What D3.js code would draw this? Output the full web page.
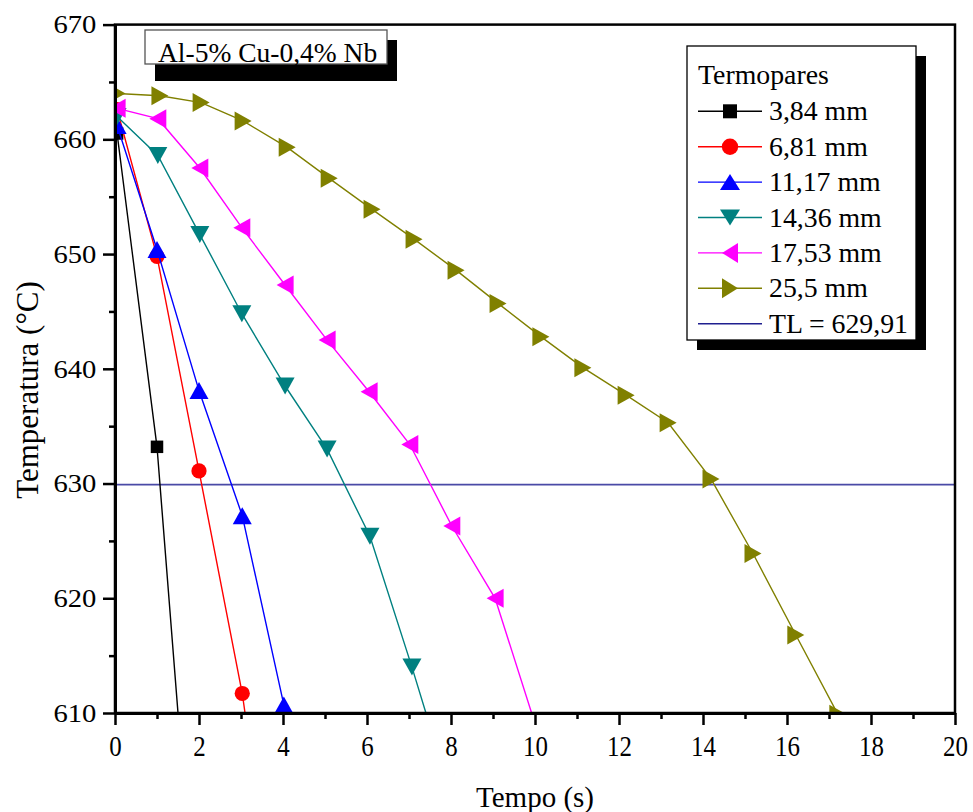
<!DOCTYPE html>
<html>
<head>
<meta charset="utf-8">
<script src="https://cdn.jsdelivr.net/npm/d3@7"></script>
<style>
  html, body { margin: 0; padding: 0; background: #fff; }
  svg { display: block; }
  text { font-family: "Liberation Serif", "Times New Roman", serif; fill: #000; }
</style>
</head>
<body>
<svg id="chart" width="973" height="812"></svg>
<script>
// Cooling curves per thermocouple position: time (s) and temperature (°C)
const seriesNames = ["3,84 mm", "6,81 mm", "11,17 mm", "14,36 mm", "17,53 mm", "25,5 mm"];
const seriesColors = ["#000000", "#ff0000", "#0000ff", "#008080", "#ff00ff", "#808000"];
const seriesShapes = ["square", "circle", "up", "down", "left", "right"];

const t384 = [0.05, 1.0, 2.0];
const v384 = [660.5, 633.2, 586.8];

const t681 = [0.05, 1.0, 2.0, 3.03, 4.03];
const v681 = [662.6, 649.8, 631.1, 611.7, 586.0];

const t1117 = [0.05, 1.0, 2.0, 3.03, 4.02, 5.02];
const v1117 = [661.2, 650.4, 638.1, 627.2, 610.7, 590.0];

const t1436 = [0.05, 1.02, 2.02, 3.02, 4.05, 5.05, 6.07, 7.07, 8.07];
const v1436 = [662.0, 658.6, 651.7, 644.8, 638.5, 633.0, 625.4, 614.0, 602.0];

const t1753 = [0.05, 1.02, 2.02, 3.02, 4.05, 5.05, 6.05, 7.02, 8.02, 9.05, 10.05];
const v1753 = [662.7, 661.8, 657.5, 652.3, 647.3, 642.5, 638.0, 633.4, 626.3, 620.0, 608.5];

const t255 = [0.05, 1.07, 2.05, 3.05, 4.1, 5.1, 6.12, 7.12, 8.12, 9.12, 10.14, 11.14, 12.17, 13.17, 14.19, 15.19, 16.21, 17.21];
const v255 = [664.0, 663.8, 663.2, 661.6, 659.3, 656.6, 653.9, 651.3, 648.6, 645.7, 642.8, 640.1, 637.7, 635.3, 630.4, 623.9, 616.8, 609.9];

const seriesTimes = [t384, t681, t1117, t1436, t1753, t255];
const seriesValues = [v384, v681, v1117, v1436, v1753, v255];

// Liquidus temperature
const liquidusLabel = "TL = 629,91";
const liquidusValue = 629.91;

const legendTitle = "Termopares";
const alloyLabel = "Al-5% Cu-0,4% Nb";
const xTitle = "Tempo (s)";
const yTitle = "Temperatura (°C)";

const xMajorTicks = [0, 2, 4, 6, 8, 10, 12, 14, 16, 18, 20];
const xMinorTicks = [1, 3, 5, 7, 9, 11, 13, 15, 17, 19];
const yMajorTicks = [610, 620, 630, 640, 650, 660, 670];
const yMinorTicks = [615, 625, 635, 645, 655, 665];

// ---- layout ----
const svg = d3.select("#chart");
const serif = '"Liberation Serif", "Times New Roman", serif';
const plot = { left: 115, right: 955, top: 24.6, bottom: 713 };

const x = d3.scaleLinear().domain([0, 20]).range([plot.left, plot.right]);
const y = d3.scaleLinear().domain([610, 670]).range([plot.bottom, plot.top]);

// marker path builder, centred on the bounding box
function markerPath(shape, s) {
  const p = d3.path();
  if (shape === "square") {
    const h = s.sq / 2;
    p.rect(-h, -h, s.sq, s.sq);
  } else if (shape === "circle") {
    p.arc(0, 0, s.r, 0, 2 * Math.PI);
  } else {
    const b = s.base / 2, h = s.height / 2;
    if (shape === "up") { p.moveTo(0, -h); p.lineTo(b, h); p.lineTo(-b, h); }
    if (shape === "down") { p.moveTo(0, h); p.lineTo(b, -h); p.lineTo(-b, -h); }
    if (shape === "left") { p.moveTo(-h, 0); p.lineTo(h, -b); p.lineTo(h, b); }
    if (shape === "right") { p.moveTo(h, 0); p.lineTo(-h, -b); p.lineTo(-h, b); }
    p.closePath();
  }
  return p.toString();
}
const plotMarker = { sq: 12.5, r: 7.6, base: 19, height: 17 };
const legendMarker = { sq: 14, r: 8.2, base: 20, height: 16 };

// clip region of the plot area
svg.append("defs").append("clipPath").attr("id", "plotClip")
  .append("rect")
  .attr("x", plot.left).attr("y", plot.top)
  .attr("width", plot.right - plot.left).attr("height", plot.bottom - plot.top);

const data = d3.zip(seriesTimes, seriesValues).map(([ts, vs], i) => ({
  name: seriesNames[i], color: seriesColors[i], shape: seriesShapes[i],
  points: ts.map((t, k) => ({ t, v: vs[k] }))
}));

const gData = svg.append("g").attr("clip-path", "url(#plotClip)");

// liquidus line
gData.append("line")
  .attr("x1", x(0)).attr("x2", x(20))
  .attr("y1", y(liquidusValue)).attr("y2", y(liquidusValue))
  .attr("stroke", "#4a4aa6").attr("stroke-width", 1.8);

const line = d3.line().x(d => x(d.t)).y(d => y(d.v));

data.forEach(s => {
  const g = gData.append("g");
  g.append("path").datum(s.points)
    .attr("d", line).attr("fill", "none")
    .attr("stroke", s.color).attr("stroke-width", 1.4);
  g.selectAll("path.m").data(s.points).join("path")
    .attr("class", "m")
    .attr("transform", d => `translate(${x(d.t)},${y(d.v)})`)
    .attr("d", markerPath(s.shape, plotMarker))
    .attr("fill", s.color);
});

// frame
svg.append("rect")
  .attr("x", plot.left).attr("y", plot.top)
  .attr("width", plot.right - plot.left).attr("height", plot.bottom - plot.top)
  .attr("fill", "none").attr("stroke", "#000").attr("stroke-width", 2.5);

// axes
function styleAxis(g, size, sx) {
  g.select(".domain").attr("stroke", "#000").attr("stroke-width", 2.8);
  g.selectAll(".tick line").attr("stroke", "#000").attr("stroke-width", 2.5);
  g.selectAll(".tick text")
    .style("font-family", serif).style("font-size", size + "px")
    .attr("fill", "#000")
    .attr("transform", `scale(${sx},1)`);
}

svg.append("g").attr("transform", `translate(0,${plot.bottom})`)
  .call(d3.axisBottom(x).tickValues(xMinorTicks).tickSize(6).tickFormat("").tickSizeOuter(0))
  .call(styleAxis, 27, 1);
svg.append("g").attr("transform", `translate(0,${plot.bottom})`)
  .call(d3.axisBottom(x).tickValues(xMajorTicks).tickSize(12).tickPadding(10).tickSizeOuter(0).tickFormat(d3.format("d")))
  .call(styleAxis, 29, 0.86);

svg.append("g").attr("transform", `translate(${plot.left},0)`)
  .call(d3.axisLeft(y).tickValues(yMinorTicks).tickSize(6).tickFormat("").tickSizeOuter(0))
  .call(styleAxis, 27, 1);
svg.append("g").attr("transform", `translate(${plot.left},0)`)
  .call(d3.axisLeft(y).tickValues(yMajorTicks).tickSize(12).tickPadding(5).tickSizeOuter(0).tickFormat(d3.format("d")))
  .call(styleAxis, 26, 1.1);

// axis titles
svg.append("text")
  .attr("x", (plot.left + plot.right) / 2).attr("y", 807)
  .attr("text-anchor", "middle").style("font-size", "29px")
  .text(xTitle);
svg.append("text")
  .attr("transform", "translate(38,390) rotate(-90)")
  .attr("text-anchor", "middle").style("font-size", "31px")
  .text(yTitle);

// alloy label box with drop shadow
svg.append("rect").attr("x", 155).attr("y", 40).attr("width", 242).attr("height", 41).attr("fill", "#000");
svg.append("rect").attr("x", 145).attr("y", 30).attr("width", 242).attr("height", 34)
  .attr("fill", "#fff").attr("stroke", "#555").attr("stroke-width", 1.3);
svg.append("text").attr("x", 158).attr("y", 61.5).style("font-size", "27.5px").text(alloyLabel);

// legend with drop shadow
const lg = { x: 687, y: 46, w: 229, h: 294 };
svg.append("rect").attr("x", lg.x + 10).attr("y", lg.y + 10).attr("width", lg.w).attr("height", lg.h).attr("fill", "#000");
svg.append("rect").attr("x", lg.x).attr("y", lg.y).attr("width", lg.w).attr("height", lg.h)
  .attr("fill", "#fff").attr("stroke", "#000").attr("stroke-width", 1.3);
svg.append("text").attr("x", 698).attr("y", 83.5).style("font-size", "27.8px").text(legendTitle);

const legendRows = data.map(s => ({ name: s.name, color: s.color, shape: s.shape }))
  .concat([{ name: liquidusLabel, color: "#1f1f8f", shape: null }]);
const rowY = d3.scaleLinear().domain([0, 6]).range([111.3, 323.7]);

const rows = svg.append("g").selectAll("g").data(legendRows).join("g")
  .attr("transform", (d, i) => `translate(0,${rowY(i)})`);
rows.append("line").attr("x1", 698).attr("x2", 762).attr("y1", 0).attr("y2", 0)
  .attr("stroke", d => d.color).attr("stroke-width", 1.4);
rows.filter(d => d.shape).append("path")
  .attr("transform", "translate(730,0)")
  .attr("d", d => markerPath(d.shape, legendMarker))
  .attr("fill", d => d.color);
rows.append("text").attr("x", 769).attr("y", 9).style("font-size", "27.8px").text(d => d.name);
</script>
</body>
</html>
